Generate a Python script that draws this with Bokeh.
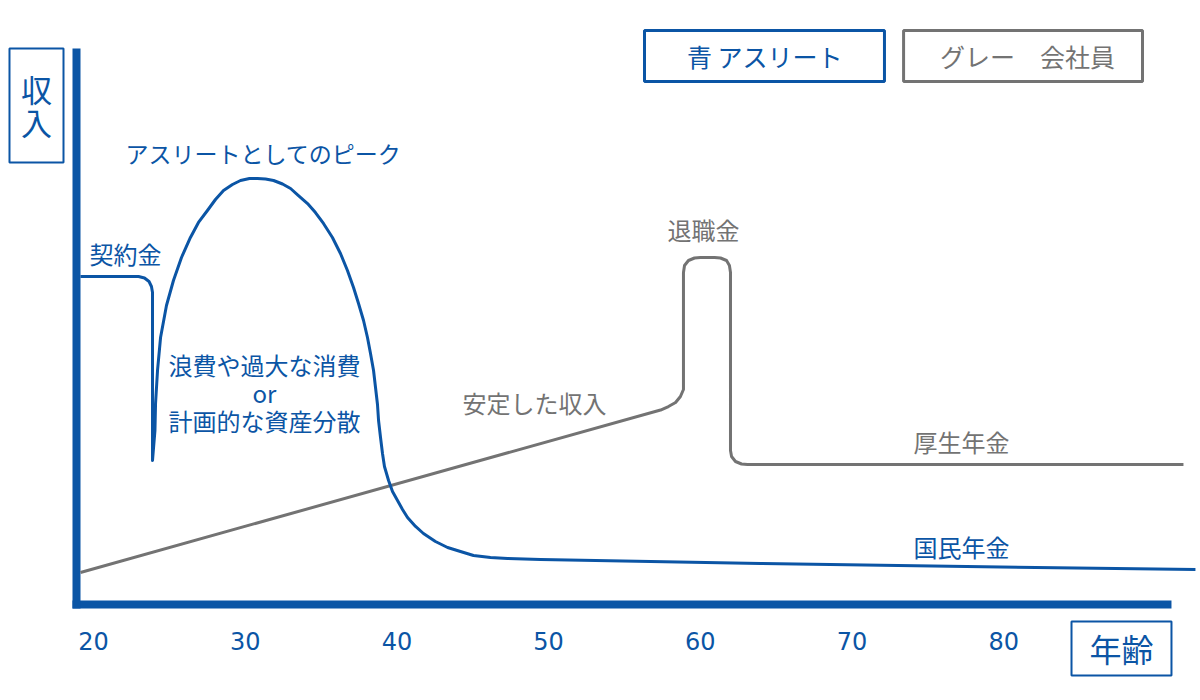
from bokeh.plotting import figure
from bokeh.models import Range1d
from bokeh.core.properties import value
from bokeh.embed import file_html
from bokeh.resources import INLINE

BLUE = "#0B55A5"
GRAY = "#737373"
FONT = "Noto Sans CJK JP"

# ---------------- data (age in years, income in relative units; 0 = age axis, 100 = top of income axis)
athlete_age = [19.14, 22.97, 23.36, 23.66, 23.82, 23.89, 23.89, 24.05, 24.09, 24.22, 24.42, 24.81,
               25.27, 25.80, 26.39, 26.92, 27.51, 28.04, 28.57, 29.16, 29.69, 30.28, 30.81, 31.34,
               31.87, 32.46, 32.99, 33.51, 34.11, 34.63, 35.16, 35.75, 36.28, 36.74, 37.14, 37.47,
               37.80, 38.06, 38.26, 38.46, 38.59, 38.72, 38.79, 38.92, 39.05, 39.18, 39.45, 39.71,
               40.04, 40.37, 40.70, 41.23, 41.75, 42.54, 43.34, 44.19, 45.05, 46.17, 47.29, 49.47,
               63.97, 79.79, 92.64]
athlete_income = [58.99, 58.99, 58.72, 58.09, 57.19, 56.12, 25.90, 31.29, 36.15, 42.09, 48.02, 53.78,
                  58.27, 62.41, 66.01, 68.71, 70.86, 72.84, 74.46, 75.54, 76.26, 76.62, 76.62, 76.53,
                  76.26, 75.63, 74.82, 73.56, 72.12, 70.50, 68.53, 66.01, 63.13, 60.07, 57.01, 54.14,
                  51.08, 48.02, 45.14, 42.09, 39.03, 35.97, 33.09, 30.04, 27.16, 24.82, 22.30, 20.32,
                  18.71, 17.09, 15.65, 14.03, 12.77, 11.33, 10.25, 9.53, 8.81, 8.45, 8.27, 8.09,
                  7.37, 6.74, 6.29]

employee_age = [19.14, 57.38, 57.90, 58.37, 58.69, 58.89, 58.89, 58.96, 59.22, 59.62, 60.01, 60.94,
                61.33, 61.73, 61.92, 61.99, 61.99, 62.06, 62.32, 62.72, 63.11, 91.85]
employee_income = [5.76, 34.98, 35.61, 36.33, 37.41, 38.67, 59.71, 60.97, 61.87, 62.32, 62.41, 62.41,
                   62.32, 61.87, 60.97, 59.71, 27.70, 26.62, 25.72, 25.27, 25.18, 25.18]

age_ticks = [20, 30, 40, 50, 60, 70, 80]
age_tick_labels = ["20", "30", "40", "50", "60", "70", "80"]

blue_notes = ["浪費や過大な消費", "or", "計画的な資産分散", "国民年金"]
blue_note_age = [31.27, 31.27, 31.27, 77.22]
blue_note_income = [43.17, 38.13, 33.09, 10.43]

gray_notes = ["安定した収入", "退職金", "厚生年金"]
gray_note_age = [49.07, 60.21, 77.22]
gray_note_income = [36.33, 67.45, 29.32]

legend_labels = ["青  アスリート", "グレー　会社員"]

# ---------------- figure (frame covers the whole page)
p = figure(width=1200, height=700, x_range=Range1d(13.869, 92.973), y_range=Range1d(-17.266, 108.633),
           output_backend="svg", toolbar_location=None, x_axis_type=None, y_axis_type=None,
           min_border=0, outline_line_color=None)
p.background_fill_color = "white"
p.border_fill_color = "white"

# axis lines
p.line([18.615, 91.06], [0, 0], line_color=BLUE, line_width=8)
p.line([18.879, 18.879], [-0.72, 100], line_color=BLUE, line_width=8)

# age tick labels
p.text(age_ticks, [-6.65] * len(age_ticks), text=age_tick_labels, text_align="center",
       text_baseline="middle", text_font=value("DejaVu Sans"), text_font_size="24px", text_color=BLUE)

# series
p.line(employee_age, employee_income, line_color=GRAY, line_width=3, line_join="round")
p.line(athlete_age, athlete_income, line_color=BLUE, line_width=3, line_join="round")

# notes
p.text([31.21], [81.12], text=["アスリートとしてのピーク"], text_align="center", text_baseline="middle",
       text_font=value(FONT), text_font_size="23px", text_color=BLUE)
p.text(blue_note_age, blue_note_income, text=blue_notes, text_align="center", text_baseline="middle",
       text_font=value(FONT), text_font_size="24px", text_color=BLUE)
p.text([19.74], [63.13], text=["契約金"], text_align="left", text_baseline="middle",
       text_font=value(FONT), text_font_size="24px", text_color=BLUE)
p.text(gray_note_age, gray_note_income, text=gray_notes, text_align="center", text_baseline="middle",
       text_font=value(FONT), text_font_size="24px", text_color=GRAY)

# legend boxes
p.quad(left=[56.32], right=[72.14], bottom=[94.06], top=[103.24], fill_color=None,
       line_color=BLUE, line_width=3)
p.quad(left=[73.40], right=[89.15], bottom=[94.06], top=[103.24], fill_color=None,
       line_color=GRAY, line_width=3)
p.text([64.43], [98.65], text=[legend_labels[0]], text_align="center", text_baseline="middle",
       text_font=value(FONT), text_font_size="25px", text_color=BLUE)
p.text([81.57], [98.65], text=[legend_labels[1]], text_align="center", text_baseline="middle",
       text_font=value(FONT), text_font_size="25px", text_color=GRAY)

# income axis title box
p.quad(left=[14.462], right=[18.022], bottom=[79.5], top=[100.0], fill_color=None,
       line_color=BLUE, line_width=2)
p.text([16.24, 16.24], [92.81, 86.87], text=["収", "入"], text_align="center", text_baseline="middle",
       text_font=value(FONT), text_font_size="31px", text_color=BLUE)

# age axis title box
p.quad(left=[84.47], right=[91.06], bottom=[-12.77], top=[-3.06], fill_color=None,
       line_color=BLUE, line_width=2)
p.text([87.77], [-7.91], text=["年齢"], text_align="center", text_baseline="middle",
       text_font=value(FONT), text_font_size="32px", text_color=BLUE)

open("out.html", "w").write(file_html(p, INLINE))
